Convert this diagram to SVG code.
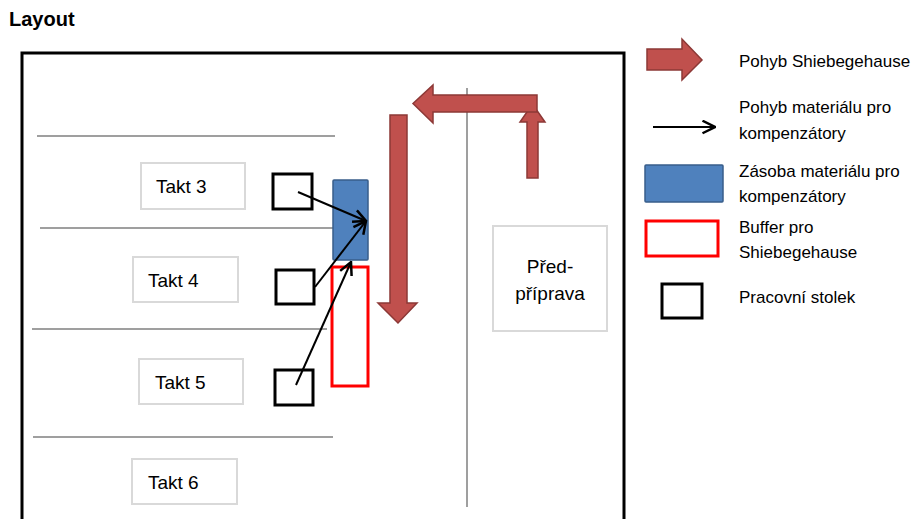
<svg xmlns="http://www.w3.org/2000/svg" width="918" height="519" viewBox="0 0 918 519">
  <style>
    text { font-family: "Liberation Sans", Arial, sans-serif; fill: #000; }
    .title { font-size: 20px; font-weight: bold; }
    .takt { font-size: 19px; }
    .legend { font-size: 17px; }
    .label-box { fill: #fff; stroke: #d9d9d9; stroke-width: 2; }
    .table { fill: #fff; stroke: #000; stroke-width: 3; }
    .divider { stroke: #7f7f7f; stroke-width: 1.5; }
    .big-arrow { fill: #c0504d; stroke: #8c3836; stroke-width: 1.5; stroke-linejoin: miter; }
    .stock { fill: #4f81bd; stroke: #385d8a; stroke-width: 1.5; }
    .buffer { fill: #fff; stroke: #ff0000; stroke-width: 3; }
    .flow { stroke: #000; stroke-width: 2; fill: none; }
  </style>
  <defs>
    <marker id="open-arrow" viewBox="0 0 12 12" refX="11" refY="6" markerWidth="15" markerHeight="15" markerUnits="userSpaceOnUse" orient="auto">
      <path d="M1,1 L11,6 L1,11" fill="none" stroke="#000" stroke-width="2"/>
    </marker>
  </defs>

  <rect width="918" height="519" fill="#fff"/>

  <text class="title" x="9" y="26">Layout</text>

  <!-- hall outline -->
  <path d="M22,519 V53 H624 V519" fill="none" stroke="#000" stroke-width="3"/>

  <!-- line dividers -->
  <g id="dividers">
    <line class="divider" x1="37" y1="136" x2="335" y2="136"/>
    <line class="divider" x1="40" y1="228" x2="340" y2="228"/>
    <line class="divider" x1="32" y1="329" x2="327" y2="329" stroke="#000"/>
    <line class="divider" x1="33" y1="437" x2="333" y2="437"/>
    <line class="divider" x1="467" y1="88" x2="467" y2="507" stroke="#595959"/>
  </g>

  <!-- station labels -->
  <g id="takt3"><rect class="label-box" x="141" y="163" width="104" height="46"/><text class="takt" x="156" y="193">Takt 3</text></g>
  <g id="takt4"><rect class="label-box" x="133" y="257" width="105" height="45"/><text class="takt" x="148" y="287">Takt 4</text></g>
  <g id="takt5"><rect class="label-box" x="139" y="359" width="104" height="45"/><text class="takt" x="155" y="389">Takt 5</text></g>
  <g id="takt6"><rect class="label-box" x="132" y="459" width="105" height="45"/><text class="takt" x="148" y="489">Takt 6</text></g>

  <g id="pre-assembly">
    <rect class="label-box" x="493" y="226" width="114" height="105"/>
    <text class="takt" x="550" y="273" text-anchor="middle">Před-</text>
    <text class="takt" x="550" y="300" text-anchor="middle">příprava</text>
  </g>

  <!-- work tables -->
  <g id="table3"><rect class="table" x="273" y="174" width="39" height="35"/></g>
  <g id="table4"><rect class="table" x="276" y="270" width="38" height="34"/></g>
  <g id="table5"><rect class="table" x="275" y="370" width="38" height="35"/></g>

  <!-- material stock and buffer -->
  <g id="stock"><rect class="stock" x="333" y="180" width="35" height="80" rx="1"/></g>
  <g id="buffer"><rect class="buffer" x="332" y="267" width="36" height="119"/></g>

  <!-- Shiebegehause route -->
  <g id="route">
    <path class="big-arrow" d="M527,178 V122 H520 L532.5,104 L545,122 H538 V178 Z"/>
    <path class="big-arrow" d="M537,95 V112 H433 V123 L413,103.5 L433,85 V95 Z"/>
    <path class="big-arrow" d="M390,115 H407 V303 H417 L398,323 L378,303 H390 Z"/>
  </g>

  <!-- material flows -->
  <g id="connectors">
    <line class="flow" x1="298" y1="192" x2="366" y2="221" marker-end="url(#open-arrow)"/>
    <line class="flow" x1="315" y1="287" x2="366" y2="221" marker-end="url(#open-arrow)"/>
    <line class="flow" x1="296" y1="385" x2="351" y2="262" marker-end="url(#open-arrow)"/>
  </g>

  <!-- legend -->
  <g id="legend">
    <g id="legend-route">
      <path class="big-arrow" d="M647,49 H682 V39 L702,60 L682,80 V70 H647 Z"/>
      <text class="legend" x="739" y="67">Pohyb Shiebegehause</text>
    </g>
    <g id="legend-flow">
      <line class="flow" x1="653" y1="127" x2="715" y2="127" marker-end="url(#open-arrow)"/>
      <text class="legend" x="739" y="113">Pohyb materiálu pro</text>
      <text class="legend" x="739" y="139">kompenzátory</text>
    </g>
    <g id="legend-stock">
      <rect class="stock" x="645" y="165" width="78" height="37" rx="1"/>
      <text class="legend" x="739" y="177">Zásoba materiálu pro</text>
      <text class="legend" x="739" y="202">kompenzátory</text>
    </g>
    <g id="legend-buffer">
      <rect class="buffer" x="646" y="221" width="72" height="35"/>
      <text class="legend" x="739" y="233">Buffer pro</text>
      <text class="legend" x="739" y="258">Shiebegehause</text>
    </g>
    <g id="legend-table">
      <rect class="table" x="662" y="284" width="40" height="34"/>
      <text class="legend" x="739" y="303">Pracovní stolek</text>
    </g>
  </g>
</svg>
